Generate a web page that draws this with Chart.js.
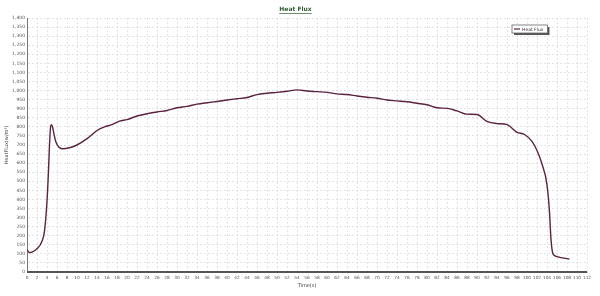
<!DOCTYPE html>
<html>
<head>
<meta charset="utf-8">
<script src="https://cdn.jsdelivr.net/npm/chart.js@4"></script>
<style>
  html, body { margin: 0; padding: 0; background: #ffffff; }
  #wrap { width: 600px; height: 296px; }
</style>
</head>
<body>
<div id="wrap"><canvas id="heatFlux" width="600" height="296"></canvas></div>
<script>
// values
var timeValues = [0, 0.5, 1, 2, 3, 3.5, 4, 4.3, 4.5, 4.7, 4.9, 5.1, 5.4, 5.8, 6.4, 7.2, 8.5, 10, 12, 14, 15.5,
  17, 18.5, 20, 22, 24, 26, 28, 30, 32, 34, 36, 38, 40, 42, 44, 46, 48, 50, 52, 54,
  56, 58, 60, 62, 64, 66, 68, 70, 72, 74, 76, 78, 80, 82, 84, 86, 88, 90, 92, 94,
  96, 98, 99.5, 101, 102, 103, 104, 104.5, 104.8, 105.2, 106, 107, 108.5];
var heatFluxValues = [122, 107, 110, 128, 170, 225, 390, 560, 700, 795, 812, 800, 760, 715, 688, 679, 685, 700, 735, 780, 800,
  812, 832, 840, 860, 872, 882, 890, 905, 913, 925, 933, 940, 948, 955, 962, 978, 985, 990, 996, 1004,
  998, 994, 990, 982, 978, 970, 963, 958, 948, 943, 938, 930, 922, 905, 902, 888, 870, 868, 830, 818,
  812, 770, 758, 720, 670, 595, 480, 330, 180, 100, 85, 78, 72];
var seriesName = "Heat Flux";
var chartTitle = "Heat Flux";
var xTitle = "Time(s)";
var yTitle = "HeatFlux(w/m\u00b2)";

var points = [];
for (var i = 0; i < timeValues.length; i++) {
  points.push({ x: timeValues[i], y: heatFluxValues[i] });
}

var lineColor = '#5b2340';

// small boxed legend inside the plot, top right
var boxLegend = {
  id: 'boxLegend',
  afterDraw: function (chart) {
    var ctx = chart.ctx;
    var label = chart.data.datasets[0].label;
    ctx.save();
    ctx.font = '4.5px "DejaVu Sans"';
    var w = ctx.measureText(label).width + 14;
    var h = 8;
    var x = 512, y = 25;
    ctx.fillStyle = '#555555';
    ctx.fillRect(x + 2, y + 2, w, h);
    ctx.fillStyle = '#ffffff';
    ctx.fillRect(x, y, w, h);
    ctx.strokeStyle = '#666666';
    ctx.lineWidth = 0.8;
    ctx.strokeRect(x, y, w, h);
    ctx.strokeStyle = lineColor;
    ctx.lineWidth = 1.2;
    ctx.beginPath();
    ctx.moveTo(x + 2, y + h / 2);
    ctx.lineTo(x + 8, y + h / 2);
    ctx.stroke();
    ctx.fillStyle = '#333333';
    ctx.textBaseline = 'middle';
    ctx.fillText(label, x + 10, y + h / 2 + 0.5);
    ctx.restore();
  }
};

// underline under the title, and a heavy bottom axis line
var decorations = {
  id: 'decorations',
  afterDraw: function (chart) {
    var ctx = chart.ctx;
    var area = chart.chartArea;
    var tb = chart.titleBlock;
    ctx.save();
    ctx.font = 'bold 6px "DejaVu Sans"';
    var tw = ctx.measureText(chartTitle).width;
    var cx = tb.left + tb.width / 2;
    ctx.strokeStyle = '#2f5f2f';
    ctx.lineWidth = 0.7;
    ctx.beginPath();
    ctx.moveTo(cx - tw / 2, 13.5);
    ctx.lineTo(cx + tw / 2, 13.5);
    ctx.stroke();
    ctx.strokeStyle = '#555555';
    ctx.lineWidth = 2;
    ctx.beginPath();
    ctx.moveTo(area.left, area.bottom);
    ctx.lineTo(area.right, area.bottom);
    ctx.stroke();
    ctx.restore();
  }
};

var heatFluxCanvas = document.getElementById("heatFlux");
var heatFluxConfig = {
  type: 'line',
  data: {
    datasets: [{
      label: seriesName,
      data: points,
      borderColor: lineColor,
      backgroundColor: lineColor,
      borderWidth: 1.4,
      pointRadius: 0,
      cubicInterpolationMode: 'monotone',
      fill: false
    }]
  },
  options: {
    responsive: false,
    animation: false,
    layout: { padding: { left: 4, right: 13, top: 0, bottom: 7 } },
    plugins: {
      legend: { display: false },
      tooltip: { enabled: false },
      title: {
        display: true,
        text: chartTitle,
        color: '#2f5f2f',
        font: { family: 'DejaVu Sans', size: 6, weight: 'bold', lineHeight: 1.2 },
        padding: { top: 6, bottom: 4.8 }
      }
    },
    scales: {
      x: {
        type: 'linear',
        min: 0,
        max: 112,
        afterFit: function (scale) { scale.height = 17; },
        ticks: {
          stepSize: 2,
          autoSkip: false,
          maxRotation: 0,
          color: '#555555',
          padding: 3,
          font: { family: 'DejaVu Sans', size: 4.3 }
        },
        grid: {
          color: '#d0d0d0',
          lineWidth: 0.6,
          drawTicks: false
        },
        border: { color: '#aaaaaa', dash: [2, 2], display: true },
        title: {
          display: true,
          text: xTitle,
          color: '#444444',
          padding: { top: 0, bottom: 0 },
          font: { family: 'DejaVu Sans', size: 5 }
        }
      },
      y: {
        min: 0,
        max: 1400,
        afterFit: function (scale) { scale.width = 23; },
        ticks: {
          stepSize: 50,
          color: '#555555',
          padding: 2,
          font: { family: 'DejaVu Sans', size: 4.5 },
          callback: function (v) { return v.toLocaleString('en-US'); }
        },
        grid: {
          color: '#d0d0d0',
          lineWidth: 0.6,
          drawTicks: false
        },
        border: { color: '#777777', width: 1, dash: [2, 2] },
        title: {
          display: true,
          text: yTitle,
          color: '#444444',
          padding: { top: 0, bottom: 0 },
          font: { family: 'DejaVu Sans', size: 5 }
        }
      }
    }
  },
  plugins: [boxLegend, decorations]
};
var heatFluxChart = new Chart(heatFluxCanvas, heatFluxConfig);
</script>
</body>
</html>
